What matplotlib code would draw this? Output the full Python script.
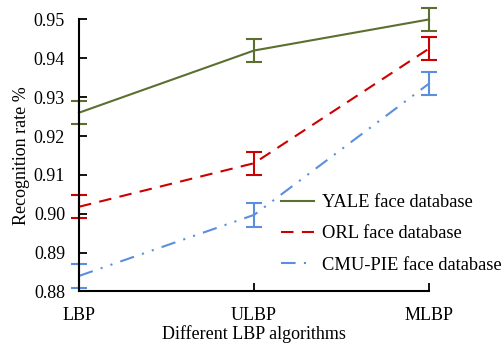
import matplotlib
matplotlib.use('Agg')
import matplotlib.pyplot as plt
import numpy as np

plt.rcParams['font.family'] = ['Liberation Serif', 'DejaVu Serif']
plt.rcParams['font.size'] = 13

# data
algorithms = ['LBP', 'ULBP', 'MLBP']
yale = [0.926, 0.942, 0.950]
yale_err = [0.003, 0.003, 0.003]
orl = [0.9018, 0.913, 0.9425]
orl_err = [0.003, 0.003, 0.003]
cmu = [0.884, 0.8997, 0.9335]
cmu_err = [0.003, 0.003, 0.003]

x = np.arange(len(algorithms))

fig = plt.figure(figsize=(5.03, 3.47), dpi=100)
ax = fig.add_axes([0.157, 0.16, 0.696, 0.784])

kw = dict(capsize=6, capthick=1.5, elinewidth=1.5, linewidth=1.5, clip_on=False)
ax.errorbar(x, yale, yerr=yale_err, color='#5b7030', linestyle='-',
            label='YALE face database', **kw)
ax.errorbar(x, orl, yerr=orl_err, color='#cc0000', linestyle=(0, (6, 4)),
            label='ORL face database', **kw)
ax.errorbar(x, cmu, yerr=cmu_err, color='#5b8fdc', linestyle=(0, (7, 4, 1, 4, 1, 4)),
            label='CMU-PIE face database', **kw)

ax.set_xlim(0, 2)
ax.set_ylim(0.88, 0.95)
ax.set_xticks(x)
ax.set_xticklabels(algorithms)
ax.set_yticks(np.arange(0.88, 0.951, 0.01))
ax.set_yticklabels(['%.2f' % v for v in np.arange(0.88, 0.951, 0.01)])
ax.tick_params(direction='in', length=6, width=1.3)
ax.tick_params(axis='y', pad=10)
ax.tick_params(axis='x', pad=11)

for s in ['top', 'right']:
    ax.spines[s].set_visible(False)
for s in ['left', 'bottom']:
    ax.spines[s].set_linewidth(1.5)

ax.set_xlabel('Different LBP algorithms', labelpad=1)
ax.set_ylabel('Recognition rate %', labelpad=3)

handles, labels = ax.get_legend_handles_labels()
handles = [h[0] for h in handles]
fig.legend(handles, labels, loc='upper left', bbox_to_anchor=(281 / 503, 1 - 194 / 347),
           frameon=False, borderpad=0, borderaxespad=0, handlelength=1.8,
           handletextpad=0.4, labelspacing=0.78, fontsize=13.3)

fig.savefig('out.png', dpi=100)
